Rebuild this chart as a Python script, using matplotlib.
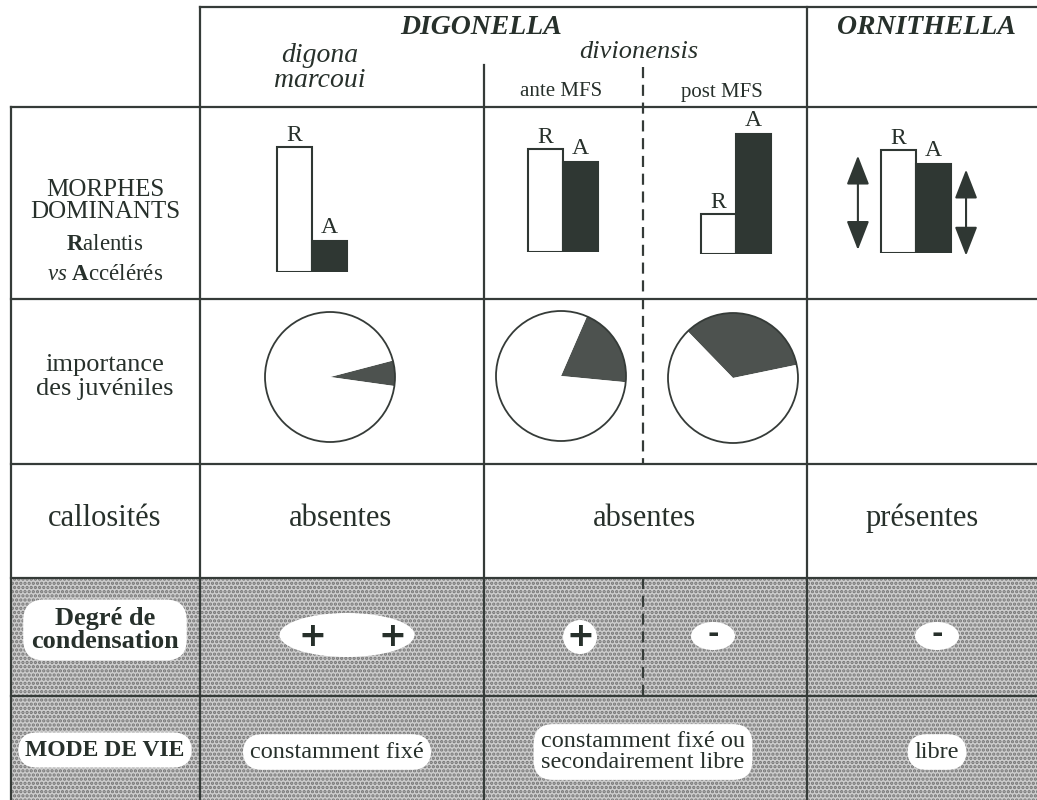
import matplotlib
matplotlib.use("Agg")
import matplotlib.pyplot as plt
from matplotlib.patches import Rectangle, Circle, Ellipse

# ---- values ---------------------------------------------------------------
# relative abundance of slowed (R = Ralentis) and accelerated (A) morphs
bar_groups = ["digona marcoui", "ante MFS", "post MFS", "Ornithella"]
ralentis = [100, 82, 32, 82]
acceleres = [25, 72, 96, 71]
variable = [False, False, False, True]   # Ornithella: proportions vary (arrows)

# share of juveniles (shaded wedge) and angle where the wedge starts
pie_groups = ["digona marcoui", "ante MFS", "post MFS"]
juveniles = [0.063, 0.20, 0.34]
juv_start = [-8, -5.5, 11.7]

callosites = ["absentes", "absentes", "présentes"]
condensation = ["+", "+", "+", "-", "-"]
mode_de_vie = ["constamment fixé", "constamment fixé ou\nsecondairement libre", "libre"]

# ---- style ------------------------------------------------------------------
W, H = 1037, 800
INK = "#27302b"
LINE = "#353b38"
DARK = "#2f3733"
plt.rcParams.update({
    "font.family": "serif",
    "font.serif": ["Liberation Serif", "DejaVu Serif"],
    "mathtext.fontset": "custom",
    "mathtext.rm": "Liberation Serif",
    "mathtext.it": "Liberation Serif:italic",
    "mathtext.bf": "Liberation Serif:bold",
    "text.color": INK,
    "hatch.linewidth": 1.6,
})

fig = plt.figure(figsize=(W / 100, H / 100), dpi=100)
ax = fig.add_axes([0, 0, 1, 1])
ax.set_xlim(0, W)
ax.set_ylim(H, 0)
ax.axis("off")


def px_axes(cx, cy, w, h):
    """inset axes centred on a pixel position of the page"""
    a = fig.add_axes([(cx - w / 2) / W, 1 - (cy + h / 2) / H, w / W, h / H])
    a.axis("off")
    return a


# shaded lower rows
ax.add_patch(Rectangle((11, 578), W - 11, H - 578, facecolor="#cdcdcd",
                       edgecolor="#747474", hatch="....", lw=0, zorder=0))

# table grid
kw = dict(color=LINE, lw=1.6, zorder=1)
ax.plot([200, W], [7, 7], **kw)
for y in [107, 299, 464, 578, 696]:
    ax.plot([11, W], [y, y], **kw)
ax.plot([11, 11], [107, H], **kw)
ax.plot([200, 200], [7, H], **kw)
ax.plot([484, 484], [65, H], **kw)
ax.plot([807, 807], [7, H], **kw)
for y0, y1 in [(67, 464), (578, 696)]:
    ax.plot([643, 643], [y0, y1], color=LINE, lw=1.6, ls=(0, (5, 3)), zorder=1)

# headers
ax.text(481, 28, "DIGONELLA", style="italic", weight="bold", fontsize=20,
        ha="center", va="center")
ax.text(926, 28, "ORNITHELLA", style="italic", weight="bold", fontsize=20,
        ha="center", va="center")
ax.text(320, 68, "digona\nmarcoui", style="italic", fontsize=20, ha="center",
        va="center", linespacing=0.95)
ax.text(639, 52, "divionensis", style="italic", fontsize=19, ha="center", va="center")
ax.text(561, 92, "ante MFS", fontsize=15, ha="center", va="center")
ax.text(722, 92, "post MFS", fontsize=15, ha="center", va="center")

# row labels
ax.text(105, 201, "MORPHES\nDOMINANTS", fontsize=18, ha="center", va="center",
        linespacing=1.0)
ax.text(105, 244, r"$\mathbf{R}$alentis", fontsize=16.5, ha="center", va="center")
ax.text(105, 275, r"$\mathit{vs}$ $\mathbf{A}$ccélérés", fontsize=16.5, ha="center",
        va="center")
ax.text(105, 377, "importance\ndes juvéniles", fontsize=19, ha="center",
        va="center", linespacing=1.1)
ax.text(105, 518, "callosités", fontsize=22, ha="center", va="center")
white = dict(boxstyle="round,pad=0.3,rounding_size=0.8", fc="white", ec="none")
ax.text(105, 630, "Degré de\ncondensation", fontsize=19, weight="bold",
        ha="center", va="center", linespacing=0.95, bbox=white)
ax.text(105, 750, "MODE DE VIE", fontsize=17, weight="bold", ha="center",
        va="center", bbox=white)

# morph bars (R empty, A filled)
bar_anchor = [(312, 272), (563, 252), (736, 254), (916, 253)]
BAR_W, PX_PER_UNIT = 35, 1.25
for (bx, by), r, a_, var in zip(bar_anchor, ralentis, acceleres, variable):
    w, h = 170, 190
    b = px_axes(bx, by - h / 2, w, h)
    b.set_xlim(-w / 2 / BAR_W, w / 2 / BAR_W)
    b.set_ylim(0, h / PX_PER_UNIT)
    b.bar([-0.5, 0.5], [r, a_], width=1, color=["white", DARK], edgecolor=DARK,
          lw=1.5)
    b.annotate("R", (-0.5, r), xytext=(0, 1), textcoords="offset points",
               ha="center", va="bottom", fontsize=17)
    b.annotate("A", (0.5, a_), xytext=(0, 2), textcoords="offset points",
               ha="center", va="bottom", fontsize=17)
    if var:
        arr = dict(arrowstyle="<|-|>,head_length=0.9,head_width=0.35", color=DARK,
                   lw=1.5, shrinkA=0, shrinkB=0, mutation_scale=20)
        b.annotate("", xy=(-1.66, 0.95 * r), xytext=(-1.66, 0.03 * r), arrowprops=arr)
        b.annotate("", xy=(1.43, 0.94 * a_), xytext=(1.43, -0.03 * a_), arrowprops=arr)

# juvenile pies
pie_centre = [(330, 377), (561, 376), (733, 378)]
R_PX = 65
for (px, py), f, s in zip(pie_centre, juveniles, juv_start):
    size = 150
    p = px_axes(px, py, size, size)
    p.pie([f, 1 - f], colors=["#4d524f", "white"], startangle=s, counterclock=True,
          wedgeprops=dict(linewidth=0), radius=1)
    lim = size / 2 / R_PX
    p.set_xlim(-lim, lim)
    p.set_ylim(-lim, lim)
    p.add_patch(Circle((0, 0), 1, fill=False, ec=LINE, lw=1.3))

# callosités
for x, txt in zip([340, 645, 922], callosites):
    ax.text(x, 518, txt, fontsize=22, ha="center", va="center")

# degré de condensation: white blobs behind the signs
for (ex, ey, ew, eh) in [(347, 635, 135, 44), (580, 637, 34, 34),
                         (713, 636, 44, 28), (937, 636, 44, 28)]:
    ax.add_patch(Ellipse((ex, ey), ew, eh, fc="white", ec="none", zorder=2))
sign_x = [312, 392, 580, 713, 937]
for x, s in zip(sign_x, condensation):
    ax.text(x, 636 if s == "+" else 634, s, family="DejaVu Sans", weight="bold",
            fontsize=24 if s == "+" else 20, ha="center", va="center", zorder=3)

# mode de vie
for x, txt in zip([337, 643, 937], mode_de_vie):
    ax.text(x, 752, txt, fontsize=17.5, ha="center", va="center",
            linespacing=0.95, bbox=white)

fig.savefig("out.png", dpi=100, facecolor="white")
